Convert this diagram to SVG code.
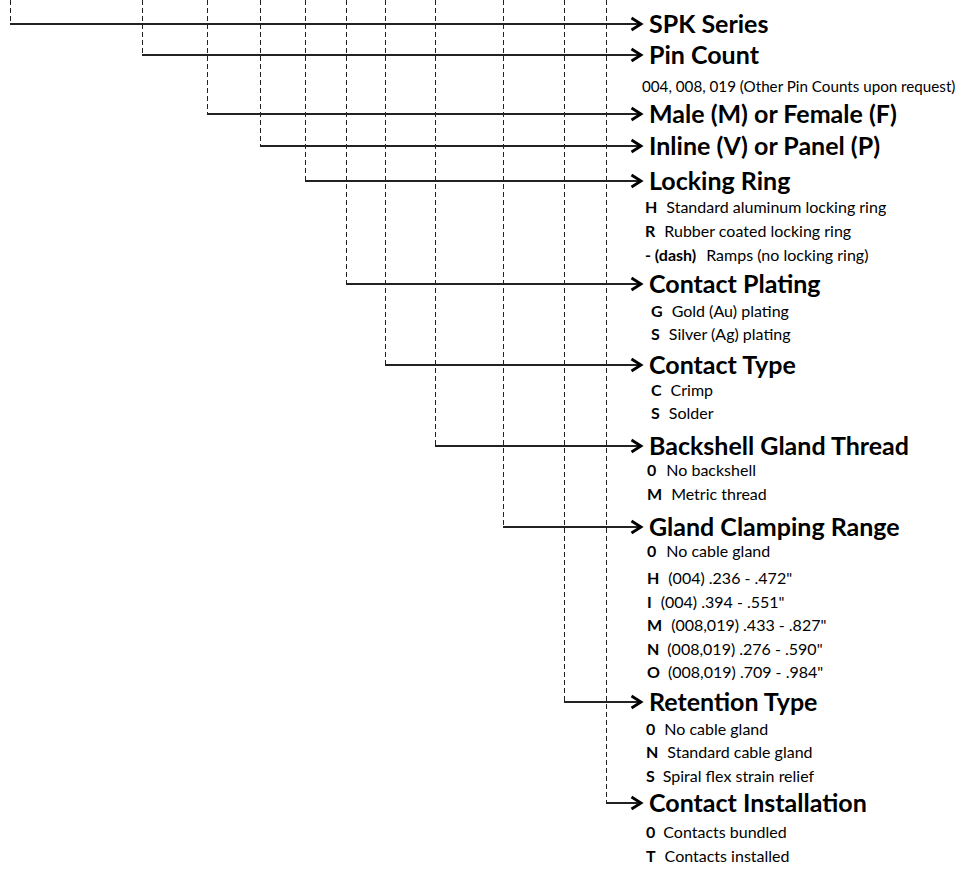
<svg xmlns="http://www.w3.org/2000/svg" width="971" height="869" viewBox="0 0 971 869">
<style>
.t{font-family:Lato,"Open Sans",sans-serif;font-weight:bold;font-size:25px;fill:#000}
.s{font-family:Lato,"Open Sans",sans-serif;font-size:16px;fill:#000}
.b{font-weight:bold}
.d{stroke:#222;stroke-width:1;stroke-dasharray:5,3;fill:none}
.h{stroke:#222;stroke-width:1.8;fill:none}
.a{stroke:#000;stroke-width:2.8;fill:none;stroke-linejoin:miter;stroke-linecap:butt}
</style>
<rect width="971" height="869" fill="#fff"/>
<g id="connectors">
<path class="d" d="M10.5 0V24M142.5 0V55M207.5 0V114M260.5 0V146M305.5 0V181M346.5 0V284M385.5 0V365M435.5 0V446M503.5 0V527M564.5 0V702M606.5 0V803"/>
<path class="h" d="M10 24H640M142 55H640M207 114H640M260 146H640M305 181H640M346 284H640M385 365H640M435 446H640M503 527H640M564 702H640M606 803H640"/>
<path class="a" d="M631.5 18L641 24L631.5 30M631.5 49L641 55L631.5 61M631.5 108L641 114L631.5 120M631.5 140L641 146L631.5 152M631.5 175L641 181L631.5 187M631.5 278L641 284L631.5 290M631.5 359L641 365L631.5 371M631.5 440L641 446L631.5 452M631.5 521L641 527L631.5 533M631.5 696L641 702L631.5 708M631.5 797L641 803L631.5 809"/>
</g>
<g id="spk-series"><text class="t" x="649" y="33">SPK Series</text></g>
<g id="pin-count"><text class="t" x="649" y="64">Pin Count</text>
<text class="s" x="642" y="92" style="font-size:15.2px">004, 008, 019 (Other Pin Counts upon request)</text></g>
<g id="male-female"><text class="t" x="649" y="123">Male (M) or Female (F)</text></g>
<g id="inline-panel"><text class="t" x="649" y="155">Inline (V) or Panel (P)</text></g>
<g id="locking-ring"><text class="t" x="649" y="190">Locking Ring</text>
<text class="s" x="645" y="213"><tspan class="b">H</tspan><tspan dx="9">Standard aluminum locking ring</tspan></text>
<text class="s" x="645" y="237"><tspan class="b">R</tspan><tspan dx="9">Rubber coated locking ring</tspan></text>
<text class="s" x="645" y="261"><tspan class="b">- (dash)</tspan><tspan dx="10">Ramps (no locking ring)</tspan></text></g>
<g id="contact-plating"><text class="t" x="649" y="293">Contact Plating</text>
<text class="s" x="651" y="317"><tspan class="b">G</tspan><tspan dx="9">Gold (Au) plating</tspan></text>
<text class="s" x="651" y="340"><tspan class="b">S</tspan><tspan dx="9">Silver (Ag) plating</tspan></text></g>
<g id="contact-type"><text class="t" x="649" y="374">Contact Type</text>
<text class="s" x="651" y="396"><tspan class="b">C</tspan><tspan dx="9">Crimp</tspan></text>
<text class="s" x="651" y="419"><tspan class="b">S</tspan><tspan dx="9">Solder</tspan></text></g>
<g id="backshell-gland-thread"><text class="t" x="649" y="455">Backshell Gland Thread</text>
<text class="s" x="647" y="476"><tspan class="b">0</tspan><tspan dx="10">No backshell</tspan></text>
<text class="s" x="647" y="500"><tspan class="b">M</tspan><tspan dx="9">Metric thread</tspan></text></g>
<g id="gland-clamping-range"><text class="t" x="649" y="536">Gland Clamping Range</text>
<text class="s" x="647" y="557"><tspan class="b">0</tspan><tspan dx="10">No cable gland</tspan></text>
<text class="s" x="647" y="584"><tspan class="b">H</tspan><tspan dx="9">(004) .236 - .472"</tspan></text>
<text class="s" x="647" y="608"><tspan class="b">I</tspan><tspan dx="9">(004) .394 - .551"</tspan></text>
<text class="s" x="647" y="631"><tspan class="b">M</tspan><tspan dx="9">(008,019) .433 - .827"</tspan></text>
<text class="s" x="647" y="655"><tspan class="b">N</tspan><tspan dx="8">(008,019) .276 - .590"</tspan></text>
<text class="s" x="647" y="678"><tspan class="b">O</tspan><tspan dx="8">(008,019) .709 - .984"</tspan></text></g>
<g id="retention-type"><text class="t" x="649" y="711">Retention Type</text>
<text class="s" x="646" y="735"><tspan class="b">0</tspan><tspan dx="9">No cable gland</tspan></text>
<text class="s" x="646" y="758"><tspan class="b">N</tspan><tspan dx="9">Standard cable gland</tspan></text>
<text class="s" x="646" y="782"><tspan class="b">S</tspan><tspan dx="8">Spiral flex strain relief</tspan></text></g>
<g id="contact-installation"><text class="t" x="649" y="812">Contact Installation</text>
<text class="s" x="646" y="838"><tspan class="b">0</tspan><tspan dx="8">Contacts bundled</tspan></text>
<text class="s" x="646" y="862"><tspan class="b">T</tspan><tspan dx="9">Contacts installed</tspan></text></g>
</svg>
